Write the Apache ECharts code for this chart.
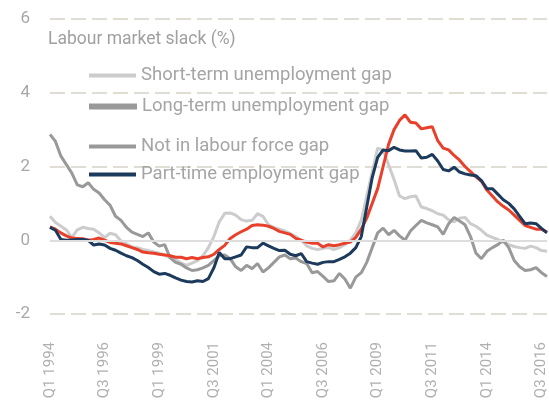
<!DOCTYPE html>
<html><head><meta charset="utf-8">
<script src="https://cdn.jsdelivr.net/npm/echarts@6/dist/echarts.min.js"></script>
<style>html,body{margin:0;padding:0;background:#fff}#c{width:549px;height:405px}</style>
</head><body><div id="c"></div>
<script>
// Quarters Q1 1994 .. Q4 2016
const years = [];
for (let y = 1994; y <= 2016; y++) years.push(y);
const quarters = [];
years.forEach(y => { for (let q = 1; q <= 4; q++) quarters.push('Q' + q + ' ' + y); });

const yTicks = [-2, 0, 2, 4, 6];

const totalSlack = [0.36,0.30,0.20,0.12,0.06,0.05,0.04,0.0,0.02,0.06,0.0,-0.06,-0.08,-0.1,-0.15,-0.2,-0.25,-0.32,-0.34,-0.35,-0.38,-0.4,-0.42,-0.46,-0.46,-0.5,-0.47,-0.5,-0.47,-0.45,-0.38,-0.25,-0.14,0.05,0.15,0.23,0.3,0.4,0.42,0.41,0.38,0.32,0.24,0.2,0.16,0.05,0.0,-0.05,-0.08,-0.08,-0.18,-0.12,-0.15,-0.12,-0.08,-0.05,0.08,0.3,0.6,1.0,1.4,2.0,2.6,3.0,3.25,3.4,3.2,3.18,3.02,3.05,3.08,2.7,2.5,2.45,2.3,2.17,2.0,1.86,1.72,1.6,1.36,1.2,1.04,0.92,0.82,0.68,0.54,0.4,0.35,0.3,0.3,0.22];

const partTime = [0.35,0.27,0.02,0.0,0.01,0.02,0.02,0.0,-0.13,-0.1,-0.13,-0.22,-0.27,-0.35,-0.42,-0.47,-0.55,-0.65,-0.74,-0.85,-0.92,-0.9,-0.95,-1.02,-1.08,-1.12,-1.13,-1.1,-1.12,-1.04,-0.75,-0.33,-0.5,-0.5,-0.45,-0.4,-0.18,-0.2,-0.2,-0.08,-0.15,-0.22,-0.28,-0.27,-0.38,-0.42,-0.36,-0.58,-0.62,-0.65,-0.6,-0.58,-0.58,-0.52,-0.45,-0.35,-0.2,0.1,0.9,1.7,2.25,2.45,2.43,2.52,2.45,2.42,2.42,2.43,2.23,2.25,2.33,2.15,1.92,1.88,1.98,1.85,1.8,1.77,1.75,1.62,1.4,1.4,1.25,1.1,1.0,0.85,0.65,0.45,0.47,0.45,0.32,0.2];

const shortTerm = [0.65,0.48,0.38,0.28,0.08,0.28,0.35,0.32,0.3,0.2,0.07,0.19,0.15,-0.02,-0.1,-0.18,-0.2,-0.25,-0.28,-0.32,-0.35,-0.4,-0.47,-0.52,-0.62,-0.68,-0.62,-0.55,-0.42,-0.2,0.1,0.5,0.73,0.74,0.68,0.56,0.52,0.54,0.72,0.65,0.42,0.35,0.3,0.25,0.18,0.1,0.0,-0.15,-0.22,-0.25,-0.22,-0.2,-0.25,-0.2,-0.12,0.0,0.2,0.55,1.2,1.85,2.5,2.45,2.05,1.65,1.2,1.13,1.18,1.2,0.9,0.86,0.8,0.72,0.68,0.55,0.5,0.6,0.62,0.45,0.38,0.27,0.14,0.08,0.02,-0.05,-0.12,-0.17,-0.2,-0.22,-0.16,-0.2,-0.28,-0.3];

const notInLabourForce = [2.87,2.68,2.28,2.05,1.82,1.5,1.45,1.56,1.38,1.28,1.1,0.95,0.65,0.54,0.35,0.22,0.16,0.1,0.2,-0.05,-0.16,-0.12,-0.48,-0.6,-0.65,-0.75,-0.82,-0.8,-0.75,-0.68,-0.55,-0.42,-0.4,-0.5,-0.72,-0.82,-0.68,-0.77,-0.63,-0.86,-0.75,-0.6,-0.45,-0.4,-0.5,-0.48,-0.58,-0.63,-0.88,-0.85,-0.98,-1.12,-1.1,-0.9,-1.05,-1.3,-1.0,-0.88,-0.6,-0.2,0.2,0.33,0.15,0.27,0.12,0.0,0.25,0.4,0.54,0.47,0.42,0.36,0.16,0.45,0.62,0.52,0.42,0.1,-0.35,-0.5,-0.3,-0.2,-0.12,0.0,-0.2,-0.55,-0.72,-0.82,-0.8,-0.74,-0.88,-0.98];

const longTerm = []; // listed in legend only

const names = {
  st: 'Short-term unemployment gap',
  lt: 'Long-term unemployment gap',
  nilf: 'Not in labour force gap',
  pt: 'Part-time employment gap',
  total: 'Labour market slack'
};

const FONT = 'Roboto';
const chart = echarts.init(document.getElementById('c'), null, {renderer: 'canvas'});

function leg(name, top, h, w) {
  return {
    data: [name], left: 89, top: top, itemWidth: w, itemHeight: h, icon: 'rect',
    padding: 0, itemGap: 0, selectedMode: false,
    textStyle: {color: '#a5a5a5', fontSize: 18.5, fontFamily: FONT}
  };
}

chart.setOption({
  animation: false,
  textStyle: {fontFamily: FONT},
  title: {
    text: 'Labour market slack (%)', left: 48, top: 31, padding: 0,
    textStyle: {color: '#a0a0a0', fontSize: 17.5, fontWeight: 'normal', fontFamily: FONT}
  },
  legend: [
    leg(names.st, 66, 4, 47),
    leg(names.lt, 97, 6, 48),
    leg(names.nilf, 137, 4, 47),
    leg(names.pt, 165, 4, 47)
  ],
  grid: {left: 50, right: 0, top: 19, bottom: 91},
  xAxis: {
    type: 'category', data: quarters, boundaryGap: false,
    axisLine: {show: false}, axisTick: {show: false},
    axisLabel: {interval: 9, rotate: 90, margin: 28, color: '#b0b0b0', fontSize: 15, fontFamily: FONT},
    splitLine: {show: false}
  },
  yAxis: {
    type: 'value', min: yTicks[0], max: yTicks[yTicks.length - 1], interval: 2,
    axisLine: {show: false}, axisTick: {show: false},
    axisLabel: {color: '#a8a8a8', fontSize: 17, margin: 20, fontFamily: FONT},
    splitLine: {lineStyle: {color: '#e0ddd5', width: 2, type: [15, 6]}}
  },
  series: [
    {name: names.st, type: 'line', data: shortTerm, showSymbol: false, symbol: 'none',
     lineStyle: {color: '#cccccc', width: 3}, itemStyle: {color: '#cccccc'},
     markLine: {silent: true, symbol: 'none', label: {show: false},
       lineStyle: {color: '#dddddd', width: 2, type: 'solid'}, data: [{yAxis: 0}]}},
    {name: names.lt, type: 'line', data: longTerm, showSymbol: false, symbol: 'none',
     lineStyle: {color: '#999999', width: 6}, itemStyle: {color: '#999999'}},
    {name: names.nilf, type: 'line', data: notInLabourForce, showSymbol: false, symbol: 'none',
     lineStyle: {color: '#999999', width: 3}, itemStyle: {color: '#999999'}},
    {name: names.total, type: 'line', data: totalSlack, showSymbol: false, symbol: 'none',
     lineStyle: {color: '#e8402a', width: 3}, itemStyle: {color: '#e8402a'}},
    {name: names.pt, type: 'line', data: partTime, showSymbol: false, symbol: 'none',
     lineStyle: {color: '#1c3a5c', width: 3}, itemStyle: {color: '#1c3a5c'}}
  ]
});
</script>
</body></html>
